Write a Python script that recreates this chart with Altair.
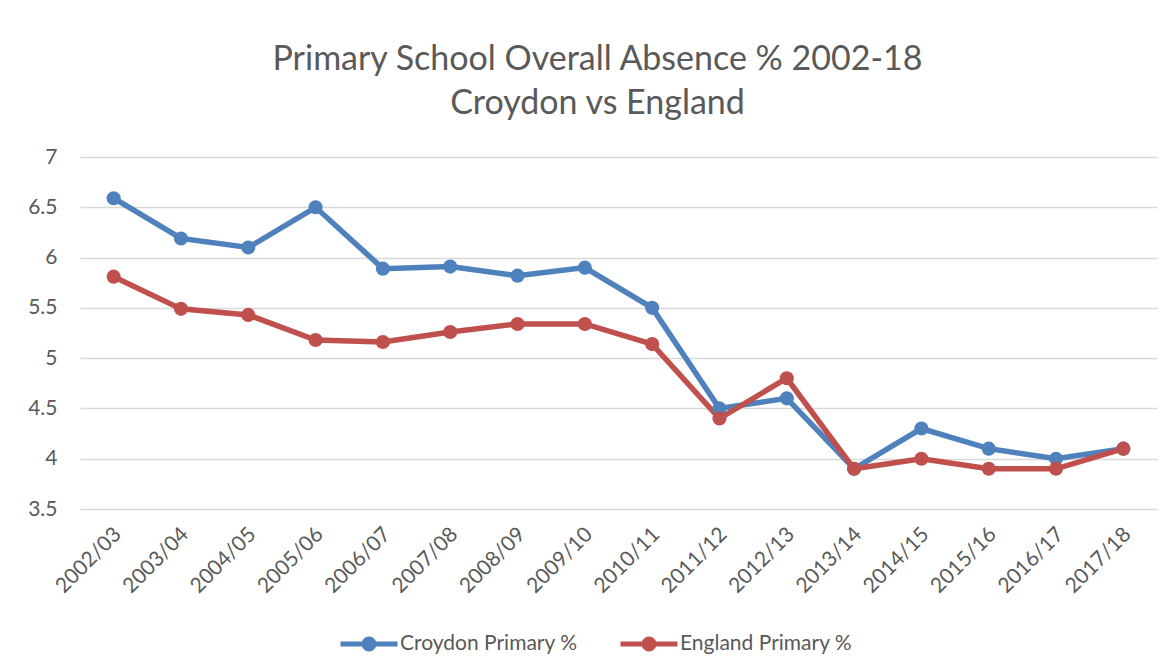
import altair as alt
import pandas as pd

years = ["2002/03", "2003/04", "2004/05", "2005/06", "2006/07", "2007/08",
         "2008/09", "2009/10", "2010/11", "2011/12", "2012/13", "2013/14",
         "2014/15", "2015/16", "2016/17", "2017/18"]
croydon = [6.59, 6.19, 6.10, 6.50, 5.89, 5.91, 5.82, 5.90, 5.50, 4.50, 4.60,
           3.90, 4.30, 4.10, 4.00, 4.10]
england = [5.81, 5.49, 5.43, 5.18, 5.16, 5.26, 5.34, 5.34, 5.14, 4.40, 4.80,
           3.90, 4.00, 3.90, 3.90, 4.10]
series_names = ["Croydon Primary %", "England Primary %"]
series_colors = ["#4F81BD", "#C0504D"]
y_ticks = [3.5, 4, 4.5, 5, 5.5, 6, 6.5, 7]

rows = []
for name, vals in zip(series_names, [croydon, england]):
    for yr, v in zip(years, vals):
        rows.append({"year": yr, "series": name, "value": v})
df = pd.DataFrame(rows)

FONT = "Lato"
TXT = "#595959"

# line through the middle, plus concentric rings that (stroked) form a dot
legend_path = ("M-1,0L1,0"
               "M0.175,0A0.175,0.175,0,1,1,-0.175,0A0.175,0.175,0,1,1,0.175,0"
               "M0.088,0A0.088,0.088,0,1,1,-0.088,0A0.088,0.088,0,1,1,0.088,0"
               "M0.02,0A0.02,0.02,0,1,1,-0.02,0A0.02,0.02,0,1,1,0.02,0")

legend = alt.Legend(
    title=None,
    orient="none",
    legendX=258,
    legendY=456,
    direction="horizontal",
    symbolType=legend_path,
    symbolSize=3249,
    symbolStrokeWidth=5,
    symbolOpacity=1,
    labelOffset=0,
    labelLimit=400,
    columnPadding=32,
    labelFont=FONT,
    labelFontSize=21,
    labelColor=TXT,
    padding=0,
)

color = alt.Color("series:N",
                  scale=alt.Scale(domain=series_names, range=series_colors),
                  legend=legend)

x = alt.X(
    "year:O",
    sort=years,
    scale=alt.Scale(type="point", padding=0.5),
    axis=alt.Axis(
        title=None,
        labelAngle=315,
        labelAlign="right",
        labelBaseline="middle",
        labelPadding=22,
        labelOffset=4,
        domain=False,
        ticks=False,
        grid=False,
        labelFont=FONT,
        labelFontSize=21,
        labelColor=TXT,
    ),
)
y = alt.Y(
    "value:Q",
    scale=alt.Scale(domain=[3.5, 7], nice=False, zero=False),
    axis=alt.Axis(
        title=None,
        values=y_ticks,
        format="~g",
        domain=False,
        ticks=False,
        labelPadding=23,
        labelFont=FONT,
        labelFontSize=21,
        labelColor=TXT,
        gridColor="#D9D9D9",
        gridWidth=1.5,
    ),
)

chart = alt.Chart(df).mark_line(
    strokeWidth=5.5,
    point=alt.OverlayMarkDef(filled=True, size=200, opacity=1),
).encode(x=x, y=y, color=color).properties(
    width=1077,
    height=352,
    autosize=alt.AutoSizeParams(type="none"),
    padding={"left": 72, "top": 149, "right": 8, "bottom": 148},
    title=alt.TitleParams(
        text=["Primary School Overall Absence % 2002-18", "Croydon vs England"],
        font=FONT,
        fontSize=34,
        fontWeight="normal",
        color=TXT,
        lineHeight=44,
        anchor="middle",
        dx=-21,
        offset=25,
    ),
).configure_view(stroke=None)

chart.save("out.html", embed_options={"renderer": "svg", "actions": False})
